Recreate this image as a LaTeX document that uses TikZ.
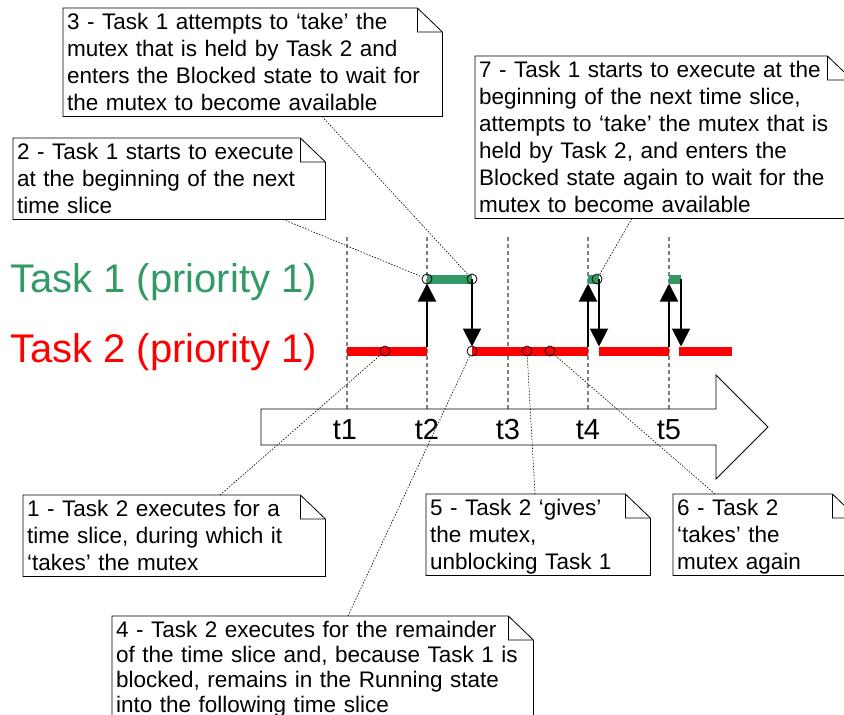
\documentclass[tikz,border=0pt]{standalone}
\usepackage{fontspec}
\setmainfont{Liberation Sans}
\usetikzlibrary{arrows.meta}

\definecolor{taskgreen}{RGB}{51,153,102}
\definecolor{taskred}{RGB}{255,0,0}
\definecolor{slicegray}{RGB}{128,128,128}

\tikzset{
    note/.style={anchor=north west, align=left, inner xsep=4pt, inner ysep=1pt,
        font=\fontsize{22.5}{27}\selectfont,
        execute at begin node={\rule{0pt}{20pt}},
        execute at end node={\rule[-5pt]{0pt}{5pt}}},
    task/.style={anchor=base west, inner sep=0pt, font=\fontsize{40}{48}\selectfont},
    tick/.style={anchor=base, inner sep=0pt, font=\fontsize{29}{35}\selectfont},
    slice/.style={slicegray, line width=1.6pt, dash pattern=on 4pt off 3pt},
    run/.style={line width=9pt},
    flow/.style={line width=2pt, -{Triangle[width=18pt,length=18pt]}},
    hit/.style={circle, draw, line width=0.8pt, minimum size=10pt, inner sep=0pt},
    leader/.style={line width=0.6pt, dash pattern=on 1.5pt off 1.5pt}
}

\begin{document}
\begin{tikzpicture}[x=1pt,y=-1pt]
        \useasboundingbox (0,0) rectangle (844,715);
        \clip (0,0) rectangle (844,715);

        % time slices
        \foreach \x in {347,427,508,588,669}
            \draw[slice] (\x,237) -- (\x,409);

        % time axis
        \draw[line width=0.8pt, fill=white] (261,409) -- (716,409) -- (716,375) -- (768,427)
            -- (716,479) -- (716,445) -- (261,445) -- cycle;
        \foreach \x/\t in {345/t1,427/t2,508/t3,588/t4,669/t5}
            \node[tick] (\t) at (\x,439) {\t};

        % tasks
        \node[task, text=taskgreen] (task1) at (10,292) {Task 1 (priority 1)};
        \node[task, text=taskred] (task2) at (10,362) {Task 2 (priority 1)};

        \draw[run, taskred] (347,351) -- (427,351);
        \draw[run, taskred] (472,351) -- (588,351);
        \draw[run, taskred] (599,351) -- (669,351);
        \draw[run, taskred] (679,351) -- (732,351);
        \draw[run, taskgreen] (427,279) -- (472,279);
        \draw[run, taskgreen] (588,279) -- (599,279);
        \draw[run, taskgreen] (669,279) -- (681,279);

        % switches
        \draw[flow] (427,347) -- (427,283.5);
        \draw[flow] (472,279) -- (472,346.5);
        \draw[flow] (588,347) -- (588,283.5);
        \draw[flow] (599,279) -- (599,346.5);
        \draw[flow] (669,347) -- (669,283.5);
        \draw[flow] (681,279) -- (681,346.5);

        % events
        \node[hit] (c1) at (385,351) {};
        \node[hit] (c2) at (427,279) {};
        \node[hit] (c3) at (472,279) {};
        \node[hit] (c4) at (472,351) {};
        \node[hit] (c5) at (527,351) {};
        \node[hit] (c6) at (550,351) {};
        \node[hit] (c7) at (597,279) {};

        % notes
        \node[note, text width=371pt] (b3) at (63,8)
            {3 - Task 1 attempts to ‘take’ the\\mutex that is held by Task 2 and\\enters the Blocked state to wait for\\the mutex to become available};
        \node[note, text width=304pt] (b2) at (13,138)
            {2 - Task 1 starts to execute\\at the beginning of the next\\time slice};
        \node[note, text width=369pt] (b7) at (475,56)
            {7 - Task 1 starts to execute at the\\beginning of the next time slice,\\attempts to ‘take’ the mutex that is\\held by Task 2, and enters the\\Blocked state again to wait for the\\mutex to become available};
        \node[note, text width=294pt] (b1) at (23,495)
            {1 - Task 2 executes for a\\time slice, during which it\\‘takes’ the mutex};
        \node[note, text width=413pt, font=\fontsize{22.5}{25}\selectfont] (b4) at (112,616)
            {4 - Task 2 executes for the remainder\\of the time slice and, because Task 1 is\\blocked, remains in the Running state\\into the following time slice};
        \node[note, text width=216pt] (b5) at (426,494)
            {5 - Task 2 ‘gives’\\the mutex,\\unblocking Task 1};
        \node[note, text width=176pt] (b6) at (673,494)
            {6 - Task 2\\‘takes’ the\\mutex again};

        \foreach \b in {b1,b2,b3,b4,b5,b6,b7}
            \draw[line width=0.8pt] (\b.north west) -- ([xshift=-25pt]\b.north east)
                -- ([yshift=-24pt]\b.north east) -- (\b.south east) -- (\b.south west) -- cycle
                ([xshift=-25pt]\b.north east) |- ([yshift=-24pt]\b.north east);

        % leaders
        \draw[leader] ([xshift=197pt]b1.north west) -- (c1);
        \draw[leader] ([xshift=270pt]b2.south west) -- (c2);
        \draw[leader] ([xshift=259pt]b3.south west) -- (c3);
        \draw[leader] ([xshift=236pt]b4.north west) -- (c4);
        \draw[leader] ([xshift=109pt]b5.north west) -- (c5);
        \draw[leader] ([xshift=42pt]b6.north west) -- (c6);
        \draw[leader] ([xshift=157pt]b7.south west) -- (c7);
    \end{tikzpicture}
\end{document}
